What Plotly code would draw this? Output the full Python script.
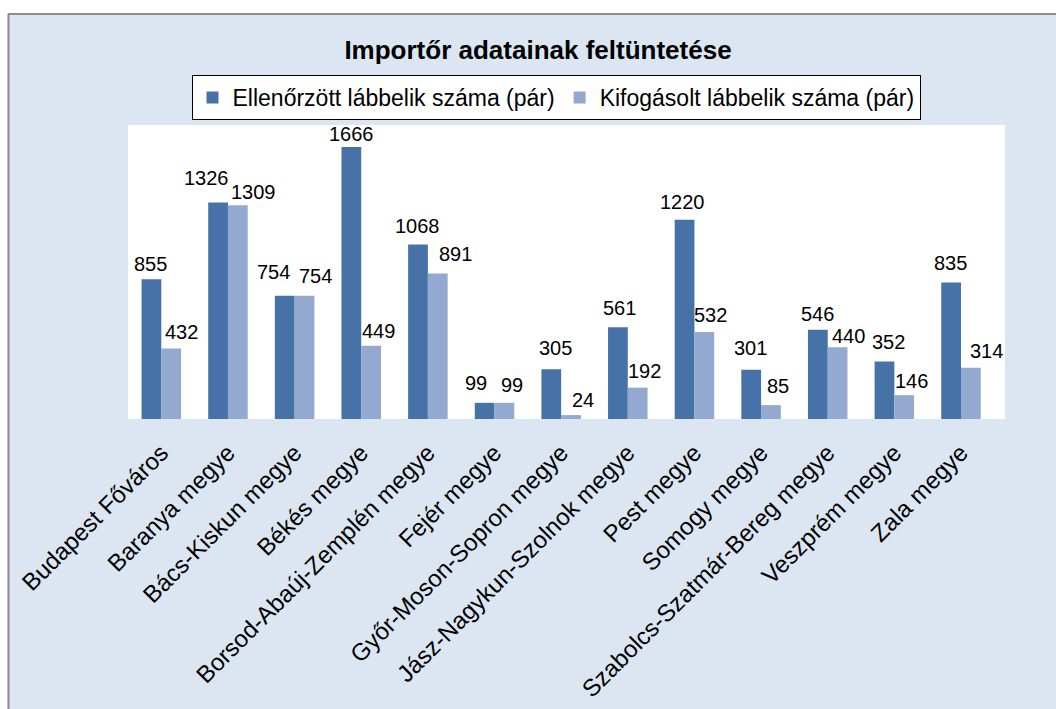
import plotly.graph_objects as go

categories = ["Budapest Főváros", "Baranya megye", "Bács-Kiskun megye", "Békés megye",
              "Borsod-Abaúj-Zemplén megye", "Fejér megye", "Győr-Moson-Sopron megye",
              "Jász-Nagykun-Szolnok megye", "Pest megye", "Somogy megye",
              "Szabolcs-Szatmár-Bereg megye", "Veszprém megye", "Zala megye"]
ellenorzott = [855, 1326, 754, 1666, 1068, 99, 305, 561, 1220, 301, 546, 352, 835]
kifogasolt = [432, 1309, 754, 449, 891, 99, 24, 192, 532, 85, 440, 146, 314]

# label placement tweaks (pixels): horizontal shift, gap above bar
lab_dx_1 = [-0.6, -11.5, -10.7, 0, -0.5, -8.5, 4.6, 2, -1.5, -1, 0, 4, -0.7]
lab_gap_1 = [7, 16, 15.7, 5, 10.7, 12, 13, 11, 9.7, 14, 8, 11.7, 11.6]
lab_dx_2 = [9.8, 15.3, 10.7, 7.5, 17.6, 7, 12, 7, 6.5, 7, 10.5, 7.5, 15.5]
lab_gap_2 = [8, 5, 11.4, 6.7, 11.3, 10, 7, 8.7, 9.3, 11.3, 2.7, 6.3, 8.7]

FONT = "Liberation Sans, Arial, sans-serif"
W, H = 1056, 709
L, R, T, B = 128, 1005, 125, 419
pw, ph = R - L, B - T
BAR_OFF = 10.0

def px(x):
    return (x - L) / pw

def py(y):
    return (B - y) / ph

fig = go.Figure()
fig.add_trace(go.Bar(name="Ellenőrzött lábbelik száma (pár)", x=categories, y=ellenorzott,
                     marker=dict(color="#4672A7", line=dict(width=0))))
fig.add_trace(go.Bar(name="Kifogásolt lábbelik száma (pár)", x=categories, y=kifogasolt,
                     marker=dict(color="#94A9CF", line=dict(width=0))))

annotations = []
for cat, v, dx, gap in zip(categories, ellenorzott, lab_dx_1, lab_gap_1):
    annotations.append(dict(x=cat, y=v, xref="x", yref="y", text=str(v), showarrow=False,
                            xanchor="center", yanchor="bottom", xshift=-BAR_OFF + dx,
                            yshift=gap - 5, font=dict(size=20, family=FONT, color="black")))
for cat, v, dx, gap in zip(categories, kifogasolt, lab_dx_2, lab_gap_2):
    annotations.append(dict(x=cat, y=v, xref="x", yref="y", text=str(v), showarrow=False,
                            xanchor="center", yanchor="bottom", xshift=BAR_OFF + dx,
                            yshift=gap - 5, font=dict(size=20, family=FONT, color="black")))

shapes = [
    dict(type="rect", xref="paper", yref="paper", x0=px(-5), x1=px(W + 5), y0=py(13.5), y1=py(-5),
         fillcolor="white", line=dict(width=0), layer="above"),
    dict(type="rect", xref="paper", yref="paper", x0=px(-5), x1=px(7.5), y0=py(W), y1=py(-5),
         fillcolor="white", line=dict(width=0), layer="above"),
    dict(type="line", xref="paper", yref="paper", x0=px(8), x1=px(W + 5), y0=py(14), y1=py(14),
         line=dict(color="#8c8c8c", width=2), layer="above"),
    dict(type="line", xref="paper", yref="paper", x0=px(8.5), x1=px(8.5), y0=py(14), y1=py(H + 5),
         line=dict(color="#8c8c8c", width=2), layer="above"),
]

fig.update_layout(
    width=W, height=H,
    margin=dict(l=L, r=W - R, t=T, b=H - B, pad=0, autoexpand=False),
    paper_bgcolor="#DCE6F2", plot_bgcolor="white",
    barmode="group", bargap=0.407, bargroupgap=0,
    font=dict(family=FONT, size=20, color="black"),
    title=dict(text="<b>Importőr adatainak feltüntetése</b>", xref="container", x=538 / W,
               xanchor="center", yref="container", y=1 - 50 / H, yanchor="middle",
               font=dict(size=26, family=FONT, color="black")),
    legend=dict(orientation="h", x=px(556), xanchor="center", y=py(75), yanchor="top",
                bgcolor="white", bordercolor="black", borderwidth=1,
                font=dict(size=23, family=FONT, color="black"), traceorder="normal",
                itemwidth=30, tracegroupgap=0),
    xaxis=dict(tickangle=-45, showline=False, ticks="", showgrid=False, automargin=False,
               ticklabelstandoff=14,
               tickfont=dict(size=24, family=FONT, color="black")),
    yaxis=dict(range=[0, 1800], visible=False, showgrid=False, automargin=False),
    shapes=shapes,
    annotations=annotations,
    showlegend=True,
)

fig.write_html("out.html", config={"displayModeBar": False},
               post_script="document.body.style.margin='0';document.body.style.overflow='hidden';")
